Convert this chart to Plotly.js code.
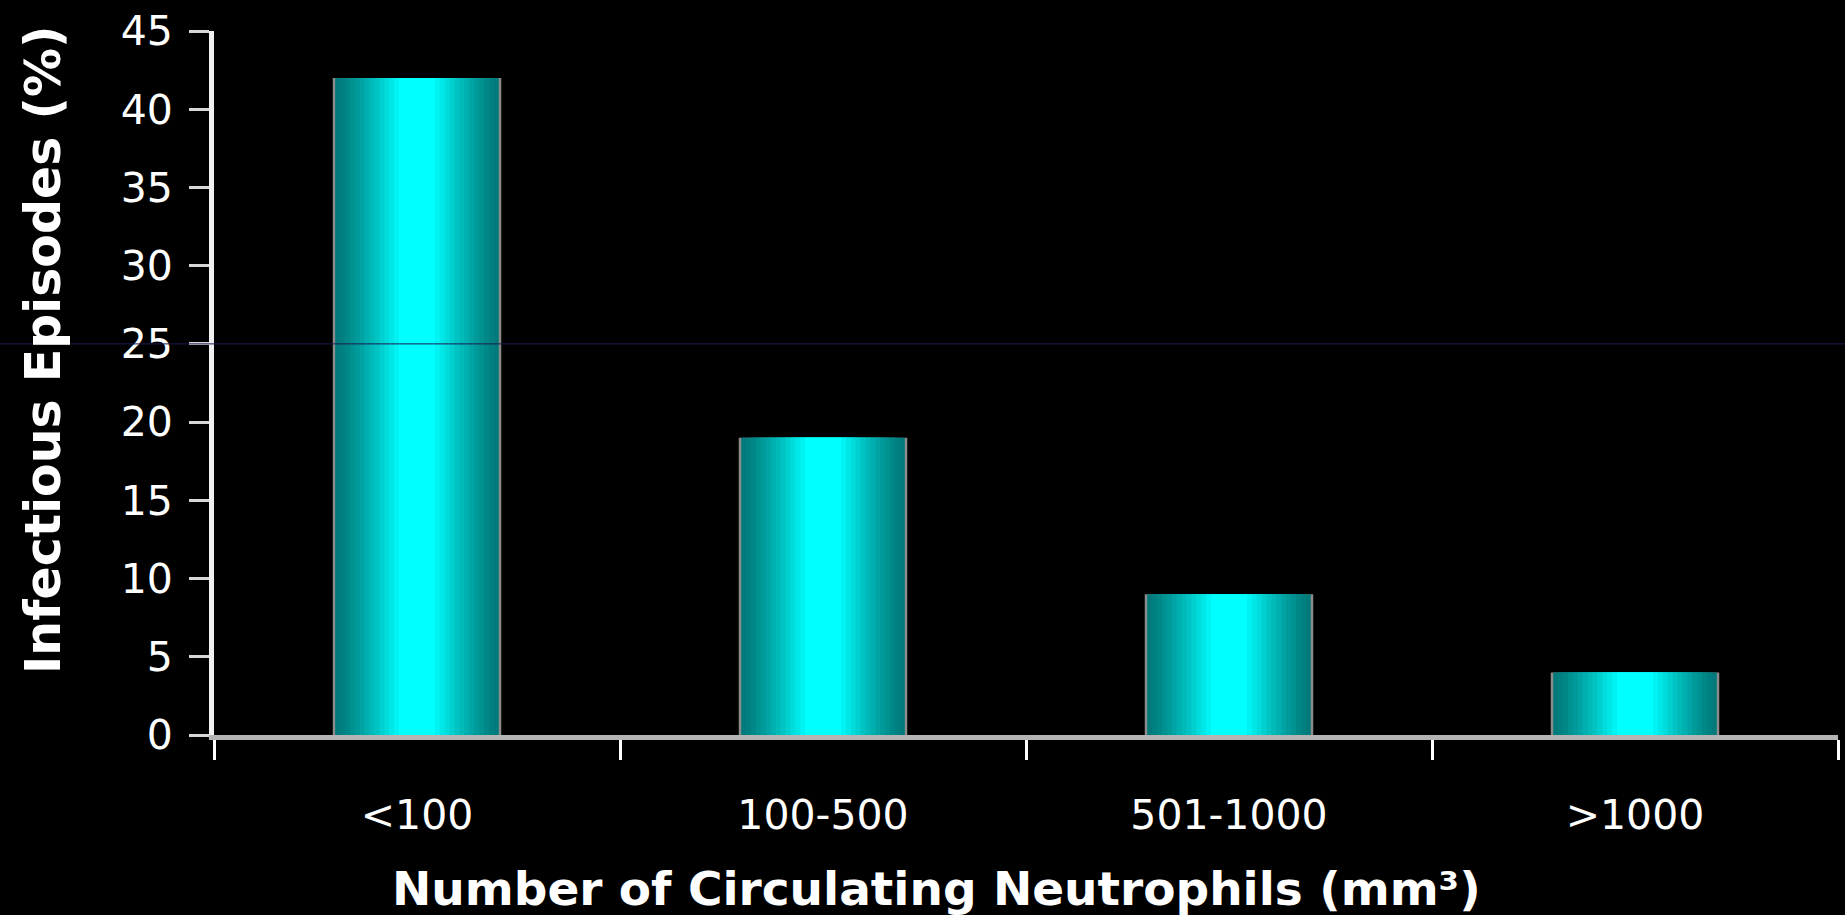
<!DOCTYPE html>
<html>
<head>
<meta charset="utf-8">
<script src="https://cdn.plot.ly/plotly-3.0.1.min.js"></script>
<style>
  html, body { margin: 0; padding: 0; background: #000; }
  #chart { width: 1845px; height: 915px; }
</style>
</head>
<body>
<div id="chart"></div>
<script>
// ---- data ----
const categories = ['<100', '100-500', '501-1000', '>1000'];
const episodes = [42, 19, 9, 4];
const yTickValues = [0, 5, 10, 15, 20, 25, 30, 35, 40, 45];
const yTickLabels = ['0', '5', '10', '15', '20', '25', '30', '35', '40', '45'];
const xTitle = 'Number of Circulating Neutrophils (mm³)';
const yTitle = 'Infectious Episodes (%)';

// ---- styling: layered bars to imitate the horizontal cyan gradient ----
const fullWidth = 0.415;
const layers = 14;
const traces = [];
// outer grey rim
traces.push({
  type: 'bar', x: categories, y: episodes, width: fullWidth,
  marker: { color: '#8c8c8c', line: { width: 0 } },
  hoverinfo: 'skip'
});
for (let i = 0; i < layers; i++) {
  const t = i / (layers - 1);                // 0 at edge, 1 at centre
  const w = (fullWidth - 0.012) * (1 - 0.78 * t);
  const e = Math.pow(t, 1.2);
  const g = Math.round(122 + (255 - 122) * e);
  const col = 'rgb(0,' + g + ',' + g + ')';
  traces.push({
    type: 'bar', x: categories, y: episodes, width: w,
    marker: { color: col, line: { width: 0 } },
    hoverinfo: 'skip'
  });
}

const tickFont = { family: 'DejaVu Sans, Verdana, sans-serif', size: 41, color: '#ffffff' };
const xTitleFont = { family: 'DejaVu Sans, Verdana, sans-serif', size: 47, color: '#ffffff', weight: 'bold' };
const yTitleFont = { family: 'DejaVu Sans, Verdana, sans-serif', size: 49, color: '#ffffff', weight: 'bold' };

const layout = {
  width: 1845, height: 915,
  paper_bgcolor: '#000000', plot_bgcolor: '#000000',
  margin: { l: 214, r: 7, t: 31, b: 180, pad: 0 },
  showlegend: false,
  barmode: 'overlay',
  xaxis: {
    type: 'category', range: [-0.5, 3.5],
    showline: true, linecolor: '#b4b4b4', linewidth: 5,
    ticks: 'outside', tickson: 'boundaries', ticklen: 20, tickwidth: 3, tickcolor: '#ffffff',
    tickfont: tickFont, ticklabelstandoff: 40,
    showgrid: false, zeroline: false, fixedrange: true
  },
  yaxis: {
    range: [0, 45], tickvals: yTickValues, ticktext: yTickLabels,
    showline: true, linecolor: '#f0f0f0', linewidth: 5,
    ticks: 'outside', ticklen: 20, tickwidth: 3, tickcolor: '#d8d8d8',
    tickfont: tickFont, ticklabelstandoff: 8,
    showgrid: false, zeroline: false, fixedrange: true
  },
  shapes: [{
    type: 'line', xref: 'paper', yref: 'y',
    x0: -0.135, x1: 1.01, y0: 25, y1: 25,
    line: { color: '#1c1c52', width: 1 }, layer: 'above'
  }],
  annotations: [
    {
      text: xTitle, xref: 'paper', yref: 'paper',
      x: 0.4446, y: -0.2175, xanchor: 'center', yanchor: 'middle',
      showarrow: false, font: xTitleFont
    },
    {
      text: yTitle, xref: 'paper', yref: 'paper', textangle: -90,
      x: -0.1047, y: 0.547, xanchor: 'center', yanchor: 'middle',
      showarrow: false, font: yTitleFont
    }
  ]
};

Plotly.newPlot('chart', traces, layout, { displayModeBar: false, staticPlot: true });
</script>
</body>
</html>
